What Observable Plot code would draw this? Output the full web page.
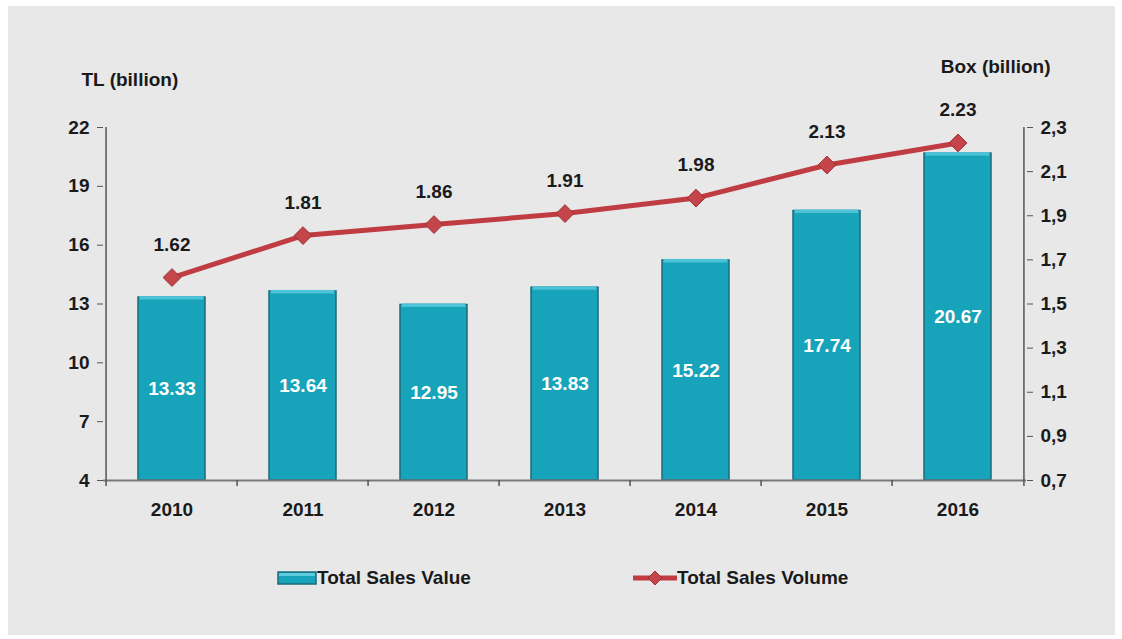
<!DOCTYPE html>
<html>
<head>
<meta charset="utf-8">
<script src="https://cdn.jsdelivr.net/npm/d3@7"></script>
<script src="https://cdn.jsdelivr.net/npm/@observablehq/plot@0.6"></script>
<style>
  html, body { margin: 0; padding: 0; background: #ffffff; }
  #wrap { position: relative; width: 1122px; height: 639px; overflow: hidden; }
  #panel { position: absolute; left: 8px; top: 6px; width: 1107px; height: 629px; background: #e8e8e8; }
  #chart { position: absolute; left: 0; top: 0; }
  .legend { position: absolute; top: 567px; font-family: "Liberation Sans", Arial, sans-serif; font-weight: bold; font-size: 19px; color: #1a1a1a; display: flex; align-items: center; }
  .legend svg { display: block; }
</style>
</head>
<body>
<div id="wrap">
  <div id="panel"></div>
  <div id="chart"></div>
  <div class="legend" style="left:277px;">
    <svg width="40" height="16"><rect x="1" y="2" width="38" height="12" fill="#17a3ba" stroke="#1d6b78" stroke-width="1.5"/><rect x="2" y="3" width="36" height="3" fill="#5ccbdd"/></svg>
    <span>Total Sales Value</span>
  </div>
  <div class="legend" style="left:633px;">
    <svg width="44" height="18"><line x1="0" y1="9" x2="44" y2="9" stroke="#bf3d42" stroke-width="5"/><path d="M22 2 L29 9 L22 16 L15 9 Z" fill="#c4464b" stroke="#9e2f33"/></svg>
    <span>Total Sales Volume</span>
  </div>
</div>
<script>
const years = ["2010", "2011", "2012", "2013", "2014", "2015", "2016"];
const salesValue = [13.33, 13.64, 12.95, 13.83, 15.22, 17.74, 20.67];
const salesVolume = [1.62, 1.81, 1.86, 1.91, 1.98, 2.13, 2.23];
const leftTicks = [4, 7, 10, 13, 16, 19, 22];
const rightTicks = [0.7, 0.9, 1.1, 1.3, 1.5, 1.7, 1.9, 2.1, 2.3];
const leftTitle = "TL (billion)";
const rightTitle = "Box (billion)";

const data = years.map((year, i) => ({year, value: salesValue[i], volume: salesVolume[i]}));

const W = 1122, H = 639, ML = 103, MR = 96, MT = 127, MB = 159;
const yMin = 4, yMax = 22, vMin = 0.7, vMax = 2.3;
const toTL = v => yMin + (v - vMin) / (vMax - vMin) * (yMax - yMin);
const fromTL = t => vMin + (t - yMin) / (yMax - yMin) * (vMax - vMin);
const step = (W - ML - MR) / years.length;

const font = "'Liberation Sans', Arial, sans-serif";
const red = "#bf3d42";
const fs = 19;

const chart = Plot.plot({
  width: W, height: H,
  marginLeft: ML, marginRight: MR, marginTop: MT, marginBottom: MB,
  style: {background: "transparent", fontFamily: font, fontSize: fs + "px", fontWeight: "bold", color: "#1a1a1a", overflow: "visible"},
  x: {domain: years, paddingInner: 0.49, paddingOuter: 0.245, axis: null},
  y: {domain: [yMin, yMax], axis: null},
  marks: [
    Plot.barY(data, {x: "year", y1: yMin, y2: "value", fill: "#17a3ba", stroke: "#1d6b78", strokeWidth: 1.5}),
    Plot.barY(data, {x: "year", y1: d => d.value, y2: d => d.value, insetTop: -1, insetBottom: -2.5, insetLeft: 1.5, insetRight: 1.5, fill: "#4cc3d6"}),
    Plot.text(data, {x: "year", y: d => (d.value + yMin) / 2, text: d => d.value.toFixed(2), fill: "white", fontSize: fs, fontWeight: "bold"}),
    // axis lines
    Plot.ruleY([yMin], {stroke: "#7a7a7a", strokeWidth: 2}),
    Plot.ruleX([years[0]], {y1: yMin, y2: yMax, dx: -step / 2, stroke: "#555", strokeWidth: 1.5}),
    Plot.ruleX([years[years.length - 1]], {y1: yMin, y2: yMax, dx: step / 2, stroke: "#555", strokeWidth: 1.5}),
    // x boundary ticks
    Plot.ruleX(years, {y1: yMin, y2: yMin, insetBottom: -6, dx: -step / 2, stroke: "#555", strokeWidth: 1.5}),
    Plot.ruleX([years[years.length - 1]], {y1: yMin, y2: yMin, insetBottom: -6, dx: step / 2, stroke: "#555", strokeWidth: 1.5}),
    Plot.text(years, {x: d => d, frameAnchor: "bottom", dy: 35, text: d => d, fontSize: fs, fontWeight: "bold", fill: "#1a1a1a"}),
    // left axis
    Plot.axisY(leftTicks, {anchor: "left", tickSize: 6, tickPadding: 8, label: null, stroke: "#555", fontSize: fs, fontWeight: "bold", fill: "#1a1a1a"}),
    // right axis
    Plot.axisY(rightTicks.map(toTL), {anchor: "right", tickSize: 6, tickPadding: 8, label: null, stroke: "#555",
      tickFormat: d => fromTL(d).toFixed(1).replace(".", ","), fontSize: fs, fontWeight: "bold", fill: "#1a1a1a"}),
    // volume line
    Plot.lineY(data, {x: "year", y: d => toTL(d.volume), stroke: red, strokeWidth: 5}),
    Plot.dot(data, {x: "year", y: d => toTL(d.volume), symbol: "diamond2", r: 8, fill: "#c4464b", stroke: "#9e2f33", strokeWidth: 1}),
    Plot.text(data, {x: "year", y: d => toTL(d.volume), dy: -33, text: d => d.volume.toFixed(2), fontSize: fs, fontWeight: "bold", fill: "#1a1a1a"}),
    // titles
    Plot.text([leftTitle], {frameAnchor: "top-left", dx: -22, dy: -55, textAnchor: "start", text: d => d, fontSize: fs, fontWeight: "bold", fill: "#1a1a1a"}),
    Plot.text([rightTitle], {frameAnchor: "top-right", dx: 24, dy: -68, textAnchor: "end", text: d => d, fontSize: fs, fontWeight: "bold", fill: "#1a1a1a"})
  ]
});
document.getElementById("chart").appendChild(chart);
</script>
</body>
</html>
